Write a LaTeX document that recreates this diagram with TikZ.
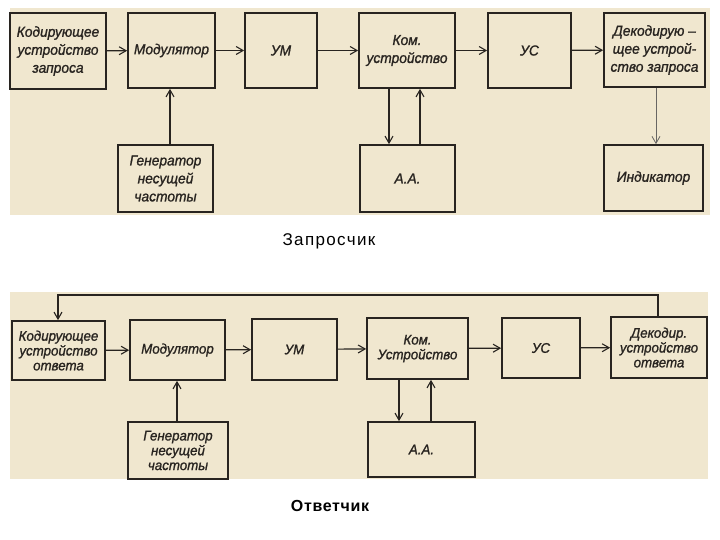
\documentclass[tikz,border=0pt]{standalone}
\usepackage{fontspec}
\setmainfont{Liberation Sans}
\newfontfamily\blkfont{Liberation Sans}[FakeStretch=0.95,ItalicFeatures={FakeBold=1.2}]
\newfontfamily\capfont{Liberation Sans}[LetterSpace=8]
\newfontfamily\capbfont{Liberation Sans}[LetterSpace=4]
\usetikzlibrary{arrows.meta}
\definecolor{paper}{RGB}{240,231,207}
\definecolor{ink}{RGB}{40,36,32}
\tikzset{
  blk/.style={draw=ink, line width=1.7pt, fill=paper, inner sep=1pt, align=center,
    font=\blkfont\itshape\fontsize{14.5}{18}\selectfont, text=ink},
  blkb/.style={blk, font=\blkfont\itshape\fontsize{14}{14.8}\selectfont},
  arr/.style={draw=ink, line width=1.2pt, -{Straight Barb[length=7pt,width=8pt,line width=1.1pt]}},
  thinarr/.style={draw=ink!70, line width=0.8pt, -{Straight Barb[length=7pt,width=8pt,line width=0.8pt]}},
  panel/.style={fill=paper, draw=none},
}
\begin{document}
\begin{tikzpicture}[x=1pt,y=-1pt]
\useasboundingbox (0,0) rectangle (720,540);
\fill[white] (0,0) rectangle (720,540);
% panels
\path[panel] (10,8) rectangle (710,215);
\path[panel] (10,292) rectangle (708,479);

% ---------- top: Запросчик ----------
\node[blk, minimum width=96pt, minimum height=76pt] (c1) at (58,51) {Кодирующее\\устройство\\запроса};
\node[blk, minimum width=87pt, minimum height=75pt] (m1) at (171.5,50.5) {Модулятор};
\node[blk, minimum width=72pt, minimum height=75pt] (u1) at (281,50.5) {УМ};
\node[blk, minimum width=96pt, minimum height=75pt] (k1) at (407,50.5) {Ком.\\устройство};
\node[blk, minimum width=101pt, minimum height=74pt, inner sep=0pt] (d1) at (654.5,50) {Декодирую –\\щее устрой-\\ство запроса};
\node[blk, minimum width=83pt, minimum height=75pt] (s1) at (529.5,50.5) {УС};
\node[blk, minimum width=95pt, minimum height=67pt] (g1) at (165.5,178.5) {Генератор\\несущей\\частоты};
\node[blk, minimum width=95pt, minimum height=67pt] (a1) at (407.5,178.5) {А.А.};
\node[blk, minimum width=99pt, minimum height=66pt] (i1) at (653.5,178) {Индикатор};

\coordinate (gx1) at (170,0);
\coordinate (kd1) at (389,0);
\coordinate (ku1) at (420,0);
\coordinate (dx1) at (656,0);

\draw[arr] (c1) -- (m1);
\draw[arr] (m1) -- (u1);
\draw[arr] (u1) -- (k1);
\draw[arr] (k1) -- (s1);
\draw[arr] (s1) -- (d1);
\draw[arr] (g1.north -| gx1) -- (m1.south -| gx1);
\draw[arr] (k1.south -| kd1) -- (a1.north -| kd1);
\draw[arr] (a1.north -| ku1) -- (k1.south -| ku1);
\draw[thinarr] (d1.south -| dx1) -- (i1.north -| dx1);

\node[font=\capfont\fontsize{17}{19}\selectfont, inner sep=0pt] (cap1) at (329,241) {Запросчик};

% ---------- bottom: Ответчик ----------
\node[blkb, minimum width=93pt, minimum height=59pt] (c2) at (58.5,350.5) {Кодирующее\\устройство\\ответа};
\node[blkb, minimum width=95pt, minimum height=60pt] (m2) at (177.5,350) {Модулятор};
\node[blkb, minimum width=85pt, minimum height=61pt] (u2) at (294.5,349.5) {УМ};
\node[blkb, minimum width=101pt, minimum height=61pt] (k2) at (417.5,348.5) {Ком.\\Устройство};
\node[blkb, minimum width=78pt, minimum height=60pt] (s2) at (541,348) {УС};
\node[blkb, minimum width=96pt, minimum height=61pt] (d2) at (659,347.5) {Декодир.\\устройство\\ответа};
\node[blkb, minimum width=100pt, minimum height=57pt] (g2) at (178,450.5) {Генератор\\несущей\\частоты};
\node[blkb, minimum width=107pt, minimum height=55pt] (a2) at (421.5,449.5) {А.А.};

\coordinate (fbR) at (658,295);
\coordinate (fbL) at (58,295);
\coordinate (gx2) at (177,0);
\coordinate (kd2) at (399,0);
\coordinate (ku2) at (431,0);

\draw[arr] (c2) -- (m2);
\draw[arr] (m2) -- (u2);
\draw[arr] (u2) -- (k2);
\draw[arr] (k2) -- (s2);
\draw[arr] (s2) -- (d2);
\draw[arr] (g2.north -| gx2) -- (m2.south -| gx2);
\draw[arr] (k2.south -| kd2) -- (a2.north -| kd2);
\draw[arr] (a2.north -| ku2) -- (k2.south -| ku2);
\draw[arr, line width=1.4pt] (d2.north -| fbR) -- (fbR) -- (fbL) -- (c2.north -| fbL);

\node[font=\capbfont\bfseries\fontsize{16}{18}\selectfont, inner sep=0pt] (cap2) at (330,506) {Ответчик};
\end{tikzpicture}
\end{document}
